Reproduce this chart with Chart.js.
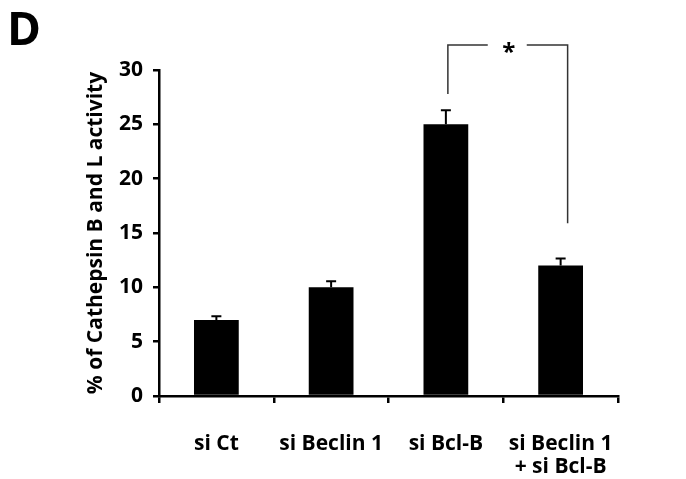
<!DOCTYPE html>
<html><head><meta charset="utf-8">
<script src="https://cdn.jsdelivr.net/npm/chart.js@4"></script>
<style>html,body{margin:0;padding:0;background:#fff;}#wrap{position:relative;width:686px;height:479px;}</style>
</head><body><div id="wrap"><canvas id="c" width="686" height="479"></canvas></div>
<script>
const categories = [["si Ct"], ["si Beclin 1"], ["si Bcl-B"], ["si Beclin 1", "+ si Bcl-B"]];
const values = [7.0, 10.0, 25.0, 12.0];
const errors = [0.35, 0.55, 1.3, 0.65];
const yTicks = [0, 5, 10, 15, 20, 25, 30];
const panelLabel = "D";
const yTitle = "% of Cathepsin B and L activity";
const sigLabel = "*";
const sigPair = [2, 3];
const sigLegTops = [27.8, 15.9];
const sigBarLevel = 32.3;

const FONT = "'Open Sans', sans-serif";

const errPlugin = {
  id: 'err',
  afterDatasetsDraw(chart) {
    const ctx = chart.ctx, meta = chart.getDatasetMeta(0), y = chart.scales.y;
    ctx.save();
    ctx.strokeStyle = '#000'; ctx.lineWidth = 2;
    meta.data.forEach((bar, i) => {
      const x = bar.x, y0 = y.getPixelForValue(values[i]), y1 = y.getPixelForValue(values[i] + errors[i]);
      ctx.beginPath();
      ctx.moveTo(x, y0); ctx.lineTo(x, y1);
      ctx.moveTo(x - 5, y1); ctx.lineTo(x + 5, y1);
      ctx.stroke();
    });
    const x = chart.scales.x;
    const xl = x.getPixelForValue(sigPair[0]) + 2;
    const xr = x.getPixelForValue(sigPair[1]) + 7;
    const yt = y.getPixelForValue(sigBarLevel);
    const yl = y.getPixelForValue(sigLegTops[0]);
    const yr = y.getPixelForValue(sigLegTops[1]);
    const xm = (xl + xr) / 2;
    ctx.strokeStyle = '#333'; ctx.lineWidth = 1.5;
    ctx.beginPath();
    ctx.moveTo(xl, yl); ctx.lineTo(xl, yt); ctx.lineTo(xm - 20, yt);
    ctx.moveTo(xm + 19, yt); ctx.lineTo(xr, yt); ctx.lineTo(xr, yr);
    ctx.stroke();
    ctx.fillStyle = '#000';
    ctx.font = "bold 24px " + FONT;
    ctx.textAlign = 'center'; ctx.textBaseline = 'middle';
    ctx.fillText(sigLabel, xm + 1, yt + 8);
    ctx.font = "bold 46px " + FONT;
    ctx.textAlign = 'left'; ctx.textBaseline = 'alphabetic';
    ctx.fillText(panelLabel, 7, 45);
    ctx.restore();
  }
};

new Chart(document.getElementById('c'), {
  type: 'bar',
  data: {
    labels: categories,
    datasets: [{ data: values, backgroundColor: '#000', borderWidth: 0, barPercentage: 0.39, categoryPercentage: 1.0 }]
  },
  options: {
    responsive: false, animation: false,
    layout: { padding: { top: 70, right: 68, left: 0, bottom: 0 } },
    plugins: { legend: { display: false }, tooltip: { enabled: false } },
    scales: {
      x: {
        offset: true,
        grid: { offset: true, drawOnChartArea: false, drawTicks: true, tickLength: 7, color: '#000', lineWidth: 2.5 },
        border: { color: '#000', width: 2.5 },
        ticks: { color: '#000', font: { family: FONT, weight: 'bold', size: 21, lineHeight: 1.1 }, padding: 29, maxRotation: 0, autoSkip: false },
        afterFit(s) { s.height = 83; }
      },
      y: {
        min: 0, max: 30,
        afterBuildTicks(s) { s.ticks = yTicks.map(v => ({ value: v })); },
        grid: { drawOnChartArea: false, drawTicks: true, tickLength: 6, color: '#000', lineWidth: 2.5 },
        border: { color: '#000', width: 2.5 },
        ticks: { color: '#000', font: { family: FONT, weight: 'bold', size: 21 }, padding: 10 },
        title: { display: true, text: yTitle, color: '#000', font: { family: FONT, weight: 'bold', size: 21, lineHeight: 1.2 }, padding: { top: 83, bottom: 0 } },
        afterFit(s) { s.width = 159; }
      }
    }
  },
  plugins: [errPlugin]
});
</script></body></html>
